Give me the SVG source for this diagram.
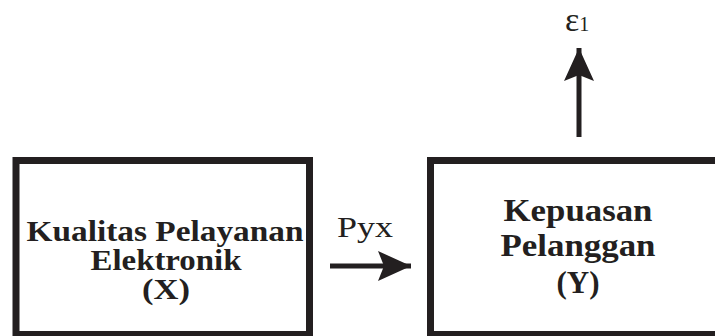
<svg xmlns="http://www.w3.org/2000/svg" width="715" height="336" viewBox="0 0 715 336">
<style>
.box{fill:#ffffff;stroke:#231f20;stroke-width:7}
.lbl{font-weight:bold;font-size:31px;fill:#231f20;text-anchor:middle}
.lblx{font-weight:bold;font-size:29px;fill:#231f20;text-anchor:middle}
.plain{fill:#231f20}
.conn{stroke:#231f20;stroke-width:5;fill:none}
</style>
<defs>
<marker id="ah" markerUnits="userSpaceOnUse" markerWidth="34" markerHeight="30" refX="33" refY="15" orient="auto" viewBox="0 0 34 30">
<path d="M0,0 L33,15 L0,30 L6,15 Z" fill="#231f20"/>
</marker>
</defs>
<rect width="715" height="336" fill="#ffffff"/>
<g id="node-x" font-family="Liberation Serif, Times New Roman, serif">
<rect class="box" x="16" y="160.5" width="293.5" height="174"/>
<text class="lblx" x="165" y="241" textLength="277" lengthAdjust="spacingAndGlyphs">Kualitas Pelayanan</text>
<text class="lblx" x="166" y="270" textLength="151" lengthAdjust="spacingAndGlyphs">Elektronik</text>
<text class="lblx" x="166" y="299" textLength="48" lengthAdjust="spacingAndGlyphs">(X)</text>
</g>
<g id="node-y" font-family="Liberation Serif, Times New Roman, serif">
<rect class="box" x="430.5" y="160.5" width="300" height="174"/>
<text class="lbl" x="578" y="221" textLength="149" lengthAdjust="spacingAndGlyphs">Kepuasan</text>
<text class="lbl" x="578" y="256" textLength="155" lengthAdjust="spacingAndGlyphs">Pelanggan</text>
<text class="lbl" x="578" y="293">(Y)</text>
</g>
<g id="connectors" font-family="Liberation Serif, Times New Roman, serif">
<line class="conn" x1="330" y1="266" x2="411" y2="266" marker-end="url(#ah)"/>
<text class="plain" x="337" y="237" font-size="30" textLength="56" lengthAdjust="spacingAndGlyphs">Pyx</text>
<line class="conn" x1="579" y1="137" x2="579" y2="48" marker-end="url(#ah)"/>
<text class="plain" x="565" y="31" font-size="34">ε<tspan font-size="20">1</tspan></text>
</g>
</svg>
